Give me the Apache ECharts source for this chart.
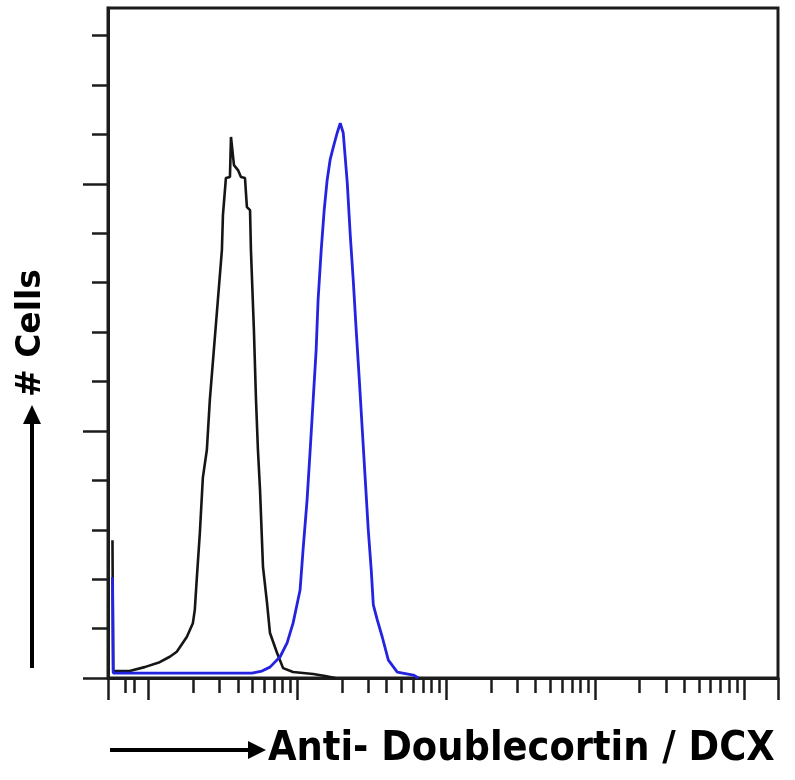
<!DOCTYPE html>
<html>
<head>
<meta charset="utf-8">
<script src="https://cdn.jsdelivr.net/npm/echarts@6/dist/echarts.min.js"></script>
<style>
  html, body { margin: 0; padding: 0; background: #fff; }
  #chart { width: 795px; height: 780px; }
</style>
</head>
<body>
<div id="chart"></div>
<script>
// x values are log10(fluorescence intensity); y values are cell counts
const isotypeLogIntensity = [-0.240, -0.235, -0.125, -0.024, 0.077, 0.145, 0.192, 0.259, 0.300, 0.313, 0.327, 0.347, 0.367, 0.394, 0.414, 0.441, 0.468, 0.495, 0.502, 0.515, 0.522, 0.549, 0.556, 0.569, 0.576, 0.603, 0.623, 0.650, 0.663, 0.684, 0.690, 0.710, 0.724, 0.737, 0.751, 0.771, 0.798, 0.818, 0.865, 0.906, 0.973, 1.108, 1.189, 1.256];
const isotypeCounts = [27.9, 1.4, 1.4, 2.2, 3.2, 4.3, 5.3, 8.3, 11.1, 13.8, 20.4, 29.4, 40.5, 46.2, 56.3, 66.4, 76.5, 86.6, 93.7, 94.1, 101.2, 101.4, 109.5, 109.5, 103.8, 102.8, 101.4, 101.2, 95.3, 94.7, 86.6, 70.4, 56.3, 46.2, 38.1, 22.5, 15.2, 9.1, 5.1, 2.0, 1.2, 0.8, 0.4, 0];

const dcxLogIntensity = [-0.240, -0.235, 0.010, 0.347, 0.697, 0.764, 0.818, 0.886, 0.933, 0.973, 1.020, 1.040, 1.067, 1.088, 1.108, 1.128, 1.141, 1.162, 1.182, 1.202, 1.222, 1.242, 1.269, 1.290, 1.310, 1.337, 1.357, 1.377, 1.397, 1.418, 1.438, 1.458, 1.478, 1.498, 1.512, 1.539, 1.572, 1.613, 1.673, 1.781, 1.815];
const dcxCounts = [20.4, 1.0, 1.0, 1.0, 1.0, 1.4, 2.2, 4.3, 7.1, 11.1, 17.8, 25.9, 36.0, 46.2, 56.3, 66.4, 76.5, 86.6, 94.7, 100.8, 104.9, 107.3, 110.3, 112.3, 110.3, 100.2, 89.7, 80.6, 70.4, 60.3, 50.2, 40.1, 30.0, 21.9, 14.8, 11.7, 8.3, 3.6, 1.2, 0.6, 0];

// axis ranges and ticks
const xMin = -0.27, xMax = 4.23;
const yMin = 0, yMax = 135.6;
const xMajorTickIntensity = [1, 10, 100, 1000, 10000];
const xMinorTickIntensity = [0.7, 0.8,
  2, 3, 4, 5, 6, 7, 8, 9,
  20, 30, 40, 50, 60, 70, 80, 90,
  200, 300, 400, 500, 600, 700, 800, 900,
  2000, 3000, 4000, 5000, 6000, 7000, 8000, 9000];
const yMajorTicks = [0, 50, 100];
const yMinorTicks = [10, 20, 30, 40, 60, 70, 80, 90, 110, 120, 130];

const xTitle = 'Anti- Doublecortin / DCX';
const yTitle = '# Cells';

const zip = (xs, ys) => xs.map((x, i) => [x, ys[i]]);
const AX = '#1c1c1c';

const chart = echarts.init(document.getElementById('chart'), null, { renderer: 'canvas' });

const baseX = {
  type: 'value', min: xMin, max: xMax, position: 'bottom', gridIndex: 0,
  axisLabel: { show: false }, splitLine: { show: false }
};
const baseY = {
  type: 'value', min: yMin, max: yMax, position: 'left', gridIndex: 0,
  axisLabel: { show: false }, splitLine: { show: false }
};

chart.setOption({
  backgroundColor: '#ffffff',
  animation: false,
  grid: { left: 108, right: 17, top: 8, bottom: 102, show: true, borderColor: AX, borderWidth: 3, backgroundColor: 'transparent' },
  xAxis: [
    Object.assign({}, baseX, {
      axisLine: { show: true, onZero: false, lineStyle: { color: AX, width: 3 } },
      axisTick: { show: true, inside: false, length: 22, lineStyle: { color: AX, width: 2.5 },
        customValues: [xMin].concat(xMajorTickIntensity.map(Math.log10), [xMax]) }
    }),
    Object.assign({}, baseX, {
      axisLine: { show: false, onZero: false },
      axisTick: { show: true, inside: false, length: 15, lineStyle: { color: AX, width: 2.5 },
        customValues: xMinorTickIntensity.map(Math.log10) }
    })
  ],
  yAxis: [
    Object.assign({}, baseY, {
      axisLine: { show: true, onZero: false, lineStyle: { color: AX, width: 3 } },
      axisTick: { show: true, inside: false, length: 25, lineStyle: { color: AX, width: 2.5 },
        customValues: yMajorTicks }
    }),
    Object.assign({}, baseY, {
      axisLine: { show: false, onZero: false },
      axisTick: { show: true, inside: false, length: 16, lineStyle: { color: AX, width: 2.5 },
        customValues: yMinorTicks }
    })
  ],
  series: [
    {
      name: 'Isotype control', type: 'line', xAxisIndex: 0, yAxisIndex: 0,
      data: zip(isotypeLogIntensity, isotypeCounts),
      showSymbol: false, symbol: 'none', clip: false,
      lineStyle: { color: '#151515', width: 2.6 }, z: 3
    },
    {
      name: 'Anti-DCX', type: 'line', xAxisIndex: 0, yAxisIndex: 0,
      data: zip(dcxLogIntensity, dcxCounts),
      showSymbol: false, symbol: 'none', clip: false,
      lineStyle: { color: '#2323e0', width: 2.8 }, z: 4
    }
  ],
  graphic: [
    { type: 'line', shape: { x1: 110, y1: 750, x2: 252, y2: 750 }, style: { stroke: '#000', lineWidth: 4 } },
    { type: 'polygon', shape: { points: [[248, 741], [266, 750], [248, 759]] }, style: { fill: '#000' } },
    { type: 'text', x: 268, y: 749,
      style: { text: xTitle, fill: '#000', font: 'bold 41px "DejaVu Sans Condensed", "DejaVu Sans"', textAlign: 'left', textVerticalAlign: 'middle' } },
    { type: 'line', shape: { x1: 32, y1: 668, x2: 32, y2: 420 }, style: { stroke: '#000', lineWidth: 4 } },
    { type: 'polygon', shape: { points: [[23, 424], [32, 405], [41, 424]] }, style: { fill: '#000' } },
    { type: 'text', x: 31, y: 333, rotation: Math.PI / 2,
      style: { text: yTitle, fill: '#000', font: 'bold 33px "DejaVu Sans"', textAlign: 'center', textVerticalAlign: 'middle' } }
  ]
});
</script>
</body>
</html>
